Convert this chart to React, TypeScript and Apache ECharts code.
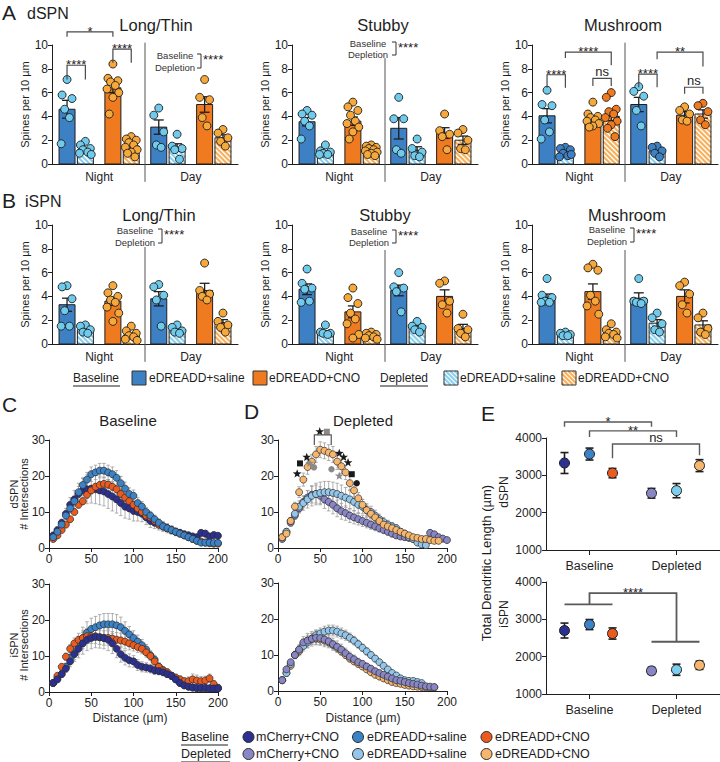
import React, { useEffect, useRef } from "react";
import * as echarts from "echarts";

const FONT = 'Arial, "Liberation Sans", Helvetica, sans-serif';
const fnt = (s: number) => `${s}px ${FONT}`;
const INK = "#1e1e1e";
const GREY = "#4a4a4a";

const BAR_BLUE = "#3d80c3";
const BAR_ORANGE = "#ef7a1f";
const DOT_LBLUE = "#6fcaec";
const DOT_LORANGE = "#f7a83b";
const HATCH_BLUE = "#8cd0f0";
const HATCH_ORANGE = "#f9b05a";

const NAVY = "#2c3191";
const MBLUE = "#3b82c6";
const RORANGE = "#ea5b1f";
const PURPLE = "#8986c5";
const LBLUE = "#93c6eb";
const LORANGE = "#f7b66d";
const CYAN = "#7dcfee";

// ---------------- categories / labels ----------------
const TIMES = ["Night", "Day"];
const LEGEND_BARS = ["eDREADD+saline", "eDREADD+CNO", "eDREADD+saline", "eDREADD+CNO"];
const LEGEND_SHOLL = ["mCherry+CNO", "eDREADD+saline", "eDREADD+CNO"];
const CONDITIONS = ["Baseline", "Depleted"];
const E_GROUPS = ["Baseline", "Depleted"];

// ---------------- Panel A (dSPN) ----------------
// order: Night [Base saline, Depl saline, Base CNO, Depl CNO], Day [same]
const A_LONG_MEAN = [4.6, 1.2, 6.4, 1.5, 3.1, 1.4, 5.0, 2.2];
const A_LONG_SEM = [0.75, 0.18, 0.4, 0.18, 0.6, 0.3, 0.65, 0.25];
const A_LONG_DOTS = [
  [7.1, 5.8, 5.5, 4.6, 3.9, 1.7],
  [1.9, 1.6, 1.3, 1.2, 1.0, 0.9, 0.8],
  [8.4, 7.2, 7.0, 6.9, 6.6, 6.3, 6.0, 5.6, 4.2],
  [2.3, 2.1, 2.0, 1.8, 1.6, 1.4, 1.2, 1.0, 0.9, 0.6],
  [4.7, 4.1, 2.7, 1.6, 1.4],
  [2.5, 1.5, 1.3, 1.2, 0.4],
  [7.1, 5.6, 5.4, 3.9, 3.2],
  [2.9, 2.6, 2.2, 1.9, 1.5],
];
const A_STUBBY_MEAN = [3.55, 1.0, 3.6, 1.2, 3.0, 1.15, 2.6, 2.0];
const A_STUBBY_SEM = [0.35, 0.12, 0.35, 0.1, 0.9, 0.3, 0.45, 0.35];
const A_STUBBY_DOTS = [
  [4.5, 4.2, 4.1, 3.6, 3.2, 2.1],
  [1.6, 1.1, 1.0, 0.9, 0.8, 0.8],
  [5.2, 4.8, 4.5, 4.1, 3.6, 3.4, 3.1, 2.7, 2.1],
  [1.6, 1.5, 1.4, 1.3, 1.2, 1.1, 1.0, 0.9, 0.8, 0.7],
  [5.6, 3.8, 3.8, 1.2, 0.9],
  [2.1, 1.3, 1.0, 0.7, 0.6],
  [4.2, 2.8, 2.5, 2.3, 1.2],
  [2.9, 2.6, 2.0, 1.3, 1.2],
];
const A_MUSH_MEAN = [4.05, 0.9, 3.85, 4.0, 5.0, 1.1, 4.1, 4.2];
const A_MUSH_SEM = [0.6, 0.12, 0.22, 0.35, 0.6, 0.18, 0.3, 0.35];
const A_MUSH_DOTS = [
  [6.2, 5.0, 4.9, 3.7, 2.7, 2.1],
  [1.4, 1.3, 1.2, 0.9, 0.7, 0.6, 0.8],
  [5.2, 4.2, 4.0, 3.9, 3.7, 3.6, 3.4, 3.2, 3.1],
  [6.0, 5.6, 4.6, 4.4, 4.2, 3.9, 3.6, 3.3, 3.0, 2.3],
  [6.5, 6.1, 5.7, 4.5, 3.2],
  [1.5, 1.4, 1.1, 0.9, 0.6],
  [4.8, 4.5, 4.2, 3.7, 3.6],
  [5.1, 4.9, 4.4, 3.7, 3.3],
];

// ---------------- Panel B (iSPN) ----------------
const B_LONG_MEAN = [3.3, 1.2, 3.6, 0.75, 3.8, 1.2, 4.5, 1.8];
const B_LONG_SEM = [0.55, 0.12, 0.35, 0.15, 0.6, 0.12, 0.6, 0.25];
const B_LONG_DOTS = [
  [4.9, 4.8, 3.8, 2.8, 1.5, 1.5],
  [1.6, 1.5, 1.2, 1.0, 0.9],
  [4.9, 4.3, 4.0, 3.7, 3.5, 3.1, 2.6, 1.9],
  [1.5, 1.1, 0.9, 0.7, 0.6, 0.4, 0.3],
  [5.0, 4.8, 4.1, 3.7, 1.5],
  [1.6, 1.4, 1.1, 1.0, 0.9],
  [6.8, 4.5, 4.2, 4.0, 3.7],
  [2.6, 1.9, 1.6, 1.4, 1.0],
];
const B_STUBBY_MEAN = [4.6, 1.0, 2.7, 0.7, 4.5, 1.4, 4.0, 1.3];
const B_STUBBY_SEM = [0.45, 0.12, 0.5, 0.1, 0.45, 0.15, 0.55, 0.35];
const B_STUBBY_DOTS = [
  [6.3, 5.1, 4.7, 4.6, 3.6, 3.5],
  [1.6, 1.0, 0.9, 0.9, 0.8],
  [4.7, 3.9, 3.4, 2.6, 2.1, 1.7, 0.8, 0.5],
  [1.0, 0.9, 0.8, 0.7, 0.6, 0.5, 0.4],
  [6.0, 4.8, 4.7, 4.4, 2.7],
  [1.9, 1.5, 1.4, 1.2, 1.0],
  [5.3, 5.1, 3.6, 3.3, 2.6],
  [2.5, 1.3, 1.2, 0.9, 0.6],
];
const B_MUSH_MEAN = [3.9, 0.8, 4.4, 0.95, 3.85, 1.75, 4.0, 1.6];
const B_MUSH_SEM = [0.3, 0.08, 0.65, 0.15, 0.45, 0.3, 0.55, 0.35];
const B_MUSH_DOTS = [
  [5.5, 4.1, 3.9, 3.6, 3.5, 3.5],
  [1.0, 0.9, 0.8, 0.7, 0.7],
  [6.7, 6.4, 6.2, 4.1, 3.6, 3.2, 2.5],
  [1.7, 1.2, 1.0, 0.9, 0.8, 0.6, 0.5],
  [5.5, 3.6, 3.6, 3.5, 3.4],
  [2.6, 2.2, 1.7, 1.2, 1.0],
  [5.2, 4.9, 4.2, 3.3, 2.6],
  [2.6, 2.2, 1.3, 1.0, 0.8],
];

// significance brackets (bar index a..b, y of top and of the two ends)
const A_LONG_BRACKETS = [
  { a: 0, b: 2, top: 11.1, l: 10.7, r: 10.7, text: "*" },
  { a: 0, b: 1, top: 8.3, l: 7.1, r: 7.1, text: "****" },
  { a: 2, b: 3, top: 9.65, l: 8.5, r: 8.5, text: "****" },
];
const A_MUSH_BRACKETS = [
  { a: 0, b: 1, top: 7.5, l: 6.4, r: 6.4, text: "****" },
  { a: 1, b: 3, top: 9.4, l: 8.9, r: 8.3, text: "****" },
  { a: 2, b: 3, top: 7.2, l: 6.55, r: 6.55, text: "ns" },
  { a: 4, b: 5, top: 7.55, l: 6.45, r: 6.45, text: "****" },
  { a: 5, b: 7, top: 9.4, l: 8.8, r: 8.2, text: "**" },
  { a: 6, b: 7, top: 6.45, l: 5.9, r: 5.9, text: "ns" },
];

// ---------------- Panels C / D (Sholl) ----------------
const RADII = [5, 10, 15, 20, 25, 30, 35, 40, 45, 50, 55, 60, 65, 70, 75, 80, 85, 90, 95, 100, 105, 110, 115, 120, 125, 130, 135, 140, 145, 150, 155, 160, 165, 170, 175, 180, 185, 190, 195, 200];

const C_DSPN_MCHERRY = [3.5, 5, 7, 9.5, 12, 13.5, 15, 16, 16.3, 16.5, 16.3, 16, 15.7, 15, 14.3, 13.5, 12.5, 11.5, 11, 10.3, 10, 9.5, 8.5, 7.5, 7, 6.5, 6, 5.5, 5, 4.5, 4.2, 3.8, 3.5, 3.2, 3.0, 4.2, 4.0, 3.2, 3.6, 3.4];
const C_DSPN_MCHERRY_SEM = [0.5, 0.8, 1, 1.5, 2, 2.5, 3, 3.5, 4, 4, 4, 4, 4, 4, 4, 3.8, 3.5, 3.2, 3, 2.8, 2.5, 2.2, 2, 1.8, 1.6, 1.5, 1.4, 1.3, 1.2, 1.1, 1, 1, 1, 0.9, 0.9, 0.9, 0.9, 0.9, 0.9, 0.9];
const C_DSPN_SALINE = [3, 4.5, 6.5, 9, 11, 13, 15.5, 17.5, 19, 20.5, 21, 21.5, 21.5, 21, 20.5, 19.5, 18, 16.5, 15, 14.5, 12.5, 11.5, 10, 9, 8, 7, 6, 5.5, 5, 4.5, 4, 3.5, 3, 2.5, 2, 1.5, 1.5, 1.5, 1.4, 1.4];
const C_DSPN_SALINE_SEM = [0.4, 0.6, 0.8, 1, 1.2, 1.4, 1.6, 1.8, 2, 2, 2, 2, 2, 2, 2, 2, 1.9, 1.8, 1.7, 1.6, 1.5, 1.4, 1.3, 1.2, 1.1, 1, 1, 0.9, 0.9, 0.8, 0.8, 0.7, 0.7, 0.6, 0.6, 0.5, 0.5, 0.5, 0.5, 0.5];
const C_DSPN_CNO = [2.5, 3.5, 5, 6.5, 8, 10, 12, 13, 14.8, 16, 17, 17.5, 17.8, 17.6, 17, 16.3, 15, 14, 13, 12, 11, 10, 9, 8.5, 7.5, 6.5, 6, 5.5, 5, 4.5, 4, 3.5, 3, 2.5, 2, 1.8, 1.5, 1.3, 1.2, 1.2];
const C_DSPN_CNO_SEM = [0.3, 0.4, 0.5, 0.6, 0.7, 0.8, 0.9, 1, 1, 1, 1, 1, 1, 1, 1, 1, 1, 1, 0.9, 0.9, 0.9, 0.8, 0.8, 0.8, 0.7, 0.7, 0.7, 0.6, 0.6, 0.6, 0.5, 0.5, 0.5, 0.5, 0.5, 0.4, 0.4, 0.4, 0.4, 0.4];

const C_ISPN_MCHERRY = [2.5, 3.5, 5, 6.5, 8.5, 10.5, 12, 13.5, 14.5, 15, 15.3, 15.2, 15, 14.5, 13.5, 12, 10.5, 9.5, 8.8, 8.5, 7.5, 7, 6.8, 6.5, 6, 5.8, 5.5, 5, 4.5, 3.5, 2.5, 1.8, 1.5, 1.3, 1.2, 1.2, 1.2, 1, 1, 1];
const C_ISPN_MCHERRY_SEM = [0.4, 0.6, 0.8, 1, 1.5, 2, 2.5, 3, 3, 3, 3, 3, 3, 3, 2.8, 2.5, 2.2, 2, 1.8, 1.6, 1.5, 1.4, 1.3, 1.2, 1.1, 1, 1, 0.9, 0.8, 0.8, 0.7, 0.6, 0.5, 0.5, 0.5, 0.5, 0.5, 0.5, 0.5, 0.5];
const C_ISPN_SALINE = [2.5, 4, 5, 7, 9.5, 11, 13, 15, 16.5, 17.5, 18, 18.5, 18.8, 18.8, 18.8, 18.5, 18, 17, 16, 15, 14, 13, 11.8, 10.2, 9, 7, 6, 5, 4.5, 3.5, 2.5, 2, 1.5, 1.2, 1, 1, 1, 1, 1, 1];
const C_ISPN_SALINE_SEM = [0.4, 0.6, 0.8, 1, 1.5, 2, 2.5, 3, 3, 3, 3, 3, 3, 3, 3, 3, 2.8, 2.5, 2.2, 2, 1.8, 1.6, 1.4, 1.3, 1.2, 1.1, 1, 0.9, 0.8, 0.7, 0.6, 0.5, 0.5, 0.5, 0.5, 0.4, 0.4, 0.4, 0.4, 0.4];
const C_ISPN_CNO = [2.5, 4.5, 7, 9.8, 12, 13.5, 14.5, 15, 15.5, 15.5, 15.5, 15.2, 15, 15, 14.8, 14.5, 14.3, 14, 13.5, 13, 12.5, 12, 11, 10, 8.5, 7, 6, 5.5, 4.5, 4, 3.5, 3, 3, 3.5, 3.2, 3, 3.2, 3.8, 2.2, 1.2];
const C_ISPN_CNO_SEM = [0.3, 0.5, 0.7, 1, 1.2, 1.5, 1.8, 2, 2, 2, 2, 2, 2, 2, 2, 2, 2, 2, 1.8, 1.6, 1.5, 1.4, 1.3, 1.2, 1.1, 1, 1, 1, 1, 1, 1, 1, 1.2, 1.5, 1.5, 1.3, 1.2, 1.2, 1, 0.8];

const D_DSPN_MCHERRY = [2.5, 4.5, 7, 9, 11, 12.8, 14, 14.8, 15, 14.5, 13.5, 12.8, 12, 11, 10.2, 9.7, 9, 8.5, 8, 7.5, 7, 6.5, 6, 5.5, 5, 4.5, 4, 3.5, 3.2, 3, 2.8, 2.5, 2.3, 2.2, 2, 4.2, 3.8, 3, 2.6, 2.2];
const D_DSPN_MCHERRY_SEM = [0.4, 0.6, 0.8, 1, 1.3, 1.6, 2, 2.3, 2.5, 2.5, 2.5, 2.5, 2.5, 2.3, 2.2, 2, 1.9, 1.8, 1.6, 1.5, 1.4, 1.3, 1.2, 1.1, 1, 0.9, 0.9, 0.8, 0.8, 0.7, 0.7, 0.6, 0.6, 0.6, 0.6, 0.8, 0.8, 0.7, 0.6, 0.6];
const D_DSPN_SALINE = [3, 4.5, 7.5, 9.5, 11.5, 12.5, 13.5, 14.5, 15, 15.3, 15.5, 15.5, 15.3, 15, 14.5, 14, 13.5, 12.8, 12, 11.5, 10.5, 10, 9, 8, 7.2, 6.5, 6, 5.5, 4.5, 4, 3, 2.5, 1.5, 1, 0.8];
const D_DSPN_SALINE_SEM = [0.4, 0.6, 0.8, 1.2, 1.6, 2, 2.4, 2.8, 3, 3, 3, 3, 3, 3, 3, 2.8, 2.6, 2.4, 2.2, 2, 1.8, 1.6, 1.5, 1.4, 1.3, 1.2, 1.1, 1, 0.9, 0.8, 0.7, 0.6, 0.5, 0.5, 0.5];
const D_DSPN_CNO = [3, 4, 7.5, 11.5, 15.5, 19, 22.5, 24, 26, 27.3, 27, 26.5, 26, 24, 22.7, 21, 18, 16, 13.8, 12, 10.5, 9.5, 8.5, 7.5, 6.5, 6, 5.5, 5, 4.5, 4, 3.5, 3, 2.8, 2.5, 2.5, 2.2, 2, 2];
const D_DSPN_CNO_SEM = [0.4, 0.6, 1, 1.2, 1.5, 1.8, 2, 2, 2.2, 2.2, 2.2, 2.2, 2.2, 2.2, 2, 2, 2, 1.8, 1.6, 1.5, 1.4, 1.3, 1.2, 1.1, 1, 1, 0.9, 0.9, 0.8, 0.8, 0.7, 0.7, 0.6, 0.6, 0.6, 0.6, 0.5, 0.5];

const D_ISPN_MCHERRY = [3, 6, 8, 10, 11.5, 13.5, 14, 14.5, 14.8, 14.7, 14.3, 13.8, 13, 12.3, 11.5, 10.5, 9.5, 8.8, 8, 7.5, 6.8, 6.2, 5.5, 5, 4.5, 4, 3.5, 3, 2.8, 2.5, 2.2, 2, 1.8, 1.5, 1.3, 1.2, 1.1];
const D_ISPN_MCHERRY_SEM = [0.3, 0.5, 0.8, 1, 1.3, 1.6, 2, 2, 2, 2, 2, 1.8, 1.7, 1.6, 1.5, 1.4, 1.3, 1.2, 1.1, 1, 0.9, 0.8, 0.8, 0.7, 0.7, 0.6, 0.6, 0.5, 0.5, 0.5, 0.4, 0.4, 0.4, 0.4, 0.4, 0.4, 0.4];
const D_ISPN_SALINE = [3, 5, 7.5, 10, 11.5, 12.5, 13.5, 14.5, 15.5, 16, 16.5, 16.8, 16.8, 16.5, 16, 15.5, 14.8, 14, 13, 12, 11, 10, 9, 8, 7, 6, 5, 4.3, 3.5, 3, 2.8, 2.8, 2.5, 2.2];
const D_ISPN_SALINE_SEM = [0.3, 0.5, 0.8, 1, 1.2, 1.4, 1.5, 1.5, 1.5, 1.5, 1.5, 1.5, 1.5, 1.5, 1.5, 1.4, 1.3, 1.2, 1.1, 1, 1, 0.9, 0.9, 0.8, 0.8, 0.7, 0.7, 0.6, 0.6, 0.6, 0.5, 0.5, 0.5, 0.5];
const D_ISPN_CNO = [3, 5, 7, 10, 11, 13, 14, 14.5, 14.5, 14.3, 14, 13.5, 12.8, 12, 11, 10, 9, 8.2, 7.5, 6.8, 6, 5.2, 4.5, 4, 3.5, 3, 2.5, 2.2, 2, 1.7, 1.5, 1.3, 1.2, 1.1, 1, 1, 1];
const D_ISPN_CNO_SEM = [0.3, 0.5, 0.8, 1, 1.2, 1.4, 1.5, 1.5, 1.5, 1.4, 1.3, 1.2, 1.1, 1, 1, 0.9, 0.9, 0.8, 0.8, 0.7, 0.7, 0.6, 0.6, 0.5, 0.5, 0.5, 0.4, 0.4, 0.4, 0.4, 0.4, 0.3, 0.3, 0.3, 0.3, 0.3, 0.3];

// significance marks on D (dSPN depleted): [radius, y]
const D_MARK_POS = [[22.7, 20.6], [26, 23.5], [34, 25.2], [37.5, 23.5], [42.6, 22.4], [49.4, 32.3], [57.8, 32.3], [63.3, 21.9], [72.5, 26.3], [77.7, 25.2], [82.9, 23.7], [72.5, 20.0], [87.3, 20.5], [93.2, 18.0]];
const D_MARK_KIND = ["star", "square", "star", "star", "dot", "star", "square", "dot", "star", "star", "star", "star", "square", "dot"];
const D_MARK_TONE = ["k", "k", "k", "g", "g", "k", "g", "g", "k", "k", "k", "g", "k", "k"];
const D_SIG_BRACKET = [[43, 28.6], [43, 31.4], [63, 31.4], [63, 28.6]];

// ---------------- Panel E (total dendritic length) ----------------
// order: Baseline [mCherry, saline, CNO], Depleted [mCherry, saline, CNO]
const E_DSPN_MEAN = [3330, 3570, 3060, 2520, 2590, 3260];
const E_DSPN_SEM = [280, 160, 125, 130, 190, 160];
const E_ISPN_MEAN = [2700, 2860, 2620, 1620, 1650, 1770];
const E_ISPN_SEM = [200, 135, 150, 90, 150, 110];
const E_COLORS = [NAVY, MBLUE, RORANGE, PURPLE, CYAN, LORANGE];
const E_DSPN_BRACKETS = [
  { paths: [[[0, 4300], [0, 4430], [3, 4430], [3, 4300]]], text: "*", between: [0, 3], y: 4430 },
  { paths: [[[1, 4030], [1, 4190], [4, 4190], [4, 4030]]], text: "**", between: [1, 4], y: 4190 },
  { paths: [[[2, 3460], [2, 3840], [5, 3840], [5, 3540]]], text: "ns", between: [2, 5], y: 3840 },
];
const E_ISPN_BRACKETS = [
  {
    paths: [
      [[0, 3400], [2, 3400]],
      [[1, 3400], [1, 3700], [4, 3700], [4, 2400]],
      [[3, 2400], [5, 2400]],
    ],
    text: "****",
    between: [1, 4],
    y: 3700,
  },
];

// ---------------- layout constants ----------------
const POS = [0, 1, 2.5, 3.5, 5, 6, 7.5, 8.5];
const X_MIN = -0.82;
const X_MAX = 9.32;
const DIVIDER_X = 4.25;
const NIGHT_X = 1.75;
const DAY_X = 6.75;
const JITTER = [0, -0.27, 0.27, -0.13, 0.13, -0.32, 0.32, 0.0, -0.2, 0.2, 0.06];
const E_OFFSETS = [-25, 0, 23];
const BAR_W = 16;

const axisLine = { show: true, onZero: false, lineStyle: { color: INK, width: 1 } };
const axisTick = { show: true, length: 4, lineStyle: { color: INK, width: 1 } };

// diagonal "\" hatching lines inside a w x h box whose top-left is (ox, oy)
function hatchLines(ox: number, oy: number, w: number, h: number, step: number, color: string, lw: number) {
  const out: any[] = [];
  for (let c = -h + step / 2; c < w; c += step) {
    const x1 = Math.max(0, c), y1 = x1 - c;
    const x2 = Math.min(w, h + c), y2 = x2 - c;
    if (x2 <= x1) continue;
    out.push({ type: "line", shape: { x1: ox + x1, y1: oy + y1, x2: ox + x2, y2: oy + y2 }, style: { stroke: color, lineWidth: lw } });
  }
  return out;
}

function dotColor(k: number, dark: boolean) {
  if (k < 2) return k === 1 && dark ? BAR_BLUE : DOT_LBLUE;
  return k === 3 && dark ? BAR_ORANGE : DOT_LORANGE;
}

function addBarPanel(opt: any, left: number, top: number, means: number[], sems: number[], dots: number[][], brackets: any[], dividerTop: number, dark: boolean) {
  const gi = opt.grid.length;
  opt.grid.push({ left, top, width: 186, height: 119 });
  opt.xAxis.push({
    gridIndex: gi, type: "value", min: X_MIN, max: X_MAX,
    axisLine, axisTick: { show: false }, axisLabel: { show: false }, splitLine: { show: false },
  });
  opt.yAxis.push({
    gridIndex: gi, type: "value", min: 0, max: 10, interval: 2,
    name: "Spines per 10 µm", nameLocation: "middle", nameGap: 20,
    nameTextStyle: { fontSize: 11, color: INK },
    axisLine, axisTick, axisLabel: { fontSize: 12, color: INK, margin: 4 }, splitLine: { show: false },
  });
  // bars (solid / hatched)
  opt.series.push({
    type: "custom", xAxisIndex: gi, yAxisIndex: gi, clip: false, silent: true, z: 2,
    data: means.map((m, i) => [POS[i], m]),
    renderItem: (p: any, api: any) => {
      const k = p.dataIndex % 4;
      const t = api.coord([api.value(0), api.value(1)]);
      const b = api.coord([api.value(0), 0]);
      const x0 = t[0] - BAR_W / 2, y0 = t[1], h = b[1] - t[1];
      const kids: any[] = [];
      const hatched = k === 1 || k === 3;
      kids.push({ type: "rect", shape: { x: x0, y: y0, width: BAR_W, height: h }, style: { fill: hatched ? "#ffffff" : k === 0 ? BAR_BLUE : BAR_ORANGE } });
      if (hatched) kids.push(...hatchLines(x0, y0, BAR_W, h, 5, k === 1 ? HATCH_BLUE : HATCH_ORANGE, 2.2));
      kids.push({ type: "rect", shape: { x: x0, y: y0, width: BAR_W, height: h }, style: { fill: "none", stroke: INK, lineWidth: 1 } });
      return { type: "group", children: kids };
    },
  });
  opt.series.push({
    type: "custom", xAxisIndex: gi, yAxisIndex: gi, clip: false, silent: true, z: 4,
    data: means.map((m, i) => [POS[i], m, sems[i]]),
    renderItem: (_p: any, api: any) => {
      const x = api.value(0), m = api.value(1), s = api.value(2);
      const a = api.coord([x, m + s]), b = api.coord([x, m - s]);
      const w = 5;
      const st = { stroke: INK, lineWidth: 1.3 };
      return {
        type: "group",
        children: [
          { type: "line", shape: { x1: a[0], y1: a[1], x2: b[0], y2: b[1] }, style: st },
          { type: "line", shape: { x1: a[0] - w, y1: a[1], x2: a[0] + w, y2: a[1] }, style: st },
          { type: "line", shape: { x1: b[0] - w, y1: b[1], x2: b[0] + w, y2: b[1] }, style: st },
        ],
      };
    },
  });
  const pts: any[] = [];
  dots.forEach((arr, i) =>
    arr.forEach((v, j) =>
      pts.push({ value: [POS[i] + JITTER[j % JITTER.length], v], itemStyle: { color: dotColor(i % 4, dark) } })
    )
  );
  opt.series.push({
    type: "scatter", xAxisIndex: gi, yAxisIndex: gi, symbolSize: 8, silent: true, z: 5,
    itemStyle: { borderColor: INK, borderWidth: 0.9, opacity: 1 },
    data: pts,
  });
  opt.series.push({
    type: "custom", xAxisIndex: gi, yAxisIndex: gi, clip: false, silent: true, z: 6,
    data: [[0, 0]],
    renderItem: (_p: any, api: any) => {
      const c = (x: number, y: number) => api.coord([x, y]);
      const kids: any[] = [];
      const d1 = c(DIVIDER_X, dividerTop), d2 = c(DIVIDER_X, -1.5);
      kids.push({ type: "line", shape: { x1: d1[0], y1: d1[1], x2: d2[0], y2: d2[1] }, style: { stroke: "#555", lineWidth: 1 } });
      [NIGHT_X, DAY_X].forEach((x, i) => {
        const p = c(x, 0);
        kids.push({ type: "text", x: p[0], y: p[1] + 13, style: { text: TIMES[i], font: fnt(12), fill: INK, align: "center", verticalAlign: "middle" } });
      });
      brackets.forEach((b: any) => {
        const p1 = c(POS[b.a], b.l), p2 = c(POS[b.a], b.top), p3 = c(POS[b.b], b.top), p4 = c(POS[b.b], b.r);
        kids.push({ type: "polyline", shape: { points: [p1, p2, p3, p4] }, style: { stroke: GREY, lineWidth: 1.2, fill: "none" } });
        const star = b.text !== "ns";
        kids.push({
          type: "text", x: (p2[0] + p3[0]) / 2, y: p2[1] + (star ? 6 : 0),
          style: { text: b.text, font: fnt(13), fill: INK, align: "center", verticalAlign: "bottom" },
        });
      });
      return { type: "group", children: kids };
    },
  });
}

function starPoints(cx: number, cy: number, R: number, r: number) {
  const pts: number[][] = [];
  for (let k = 0; k < 10; k++) {
    const ang = -Math.PI / 2 + (k * Math.PI) / 5;
    const rad = k % 2 === 0 ? R : r;
    pts.push([cx + rad * Math.cos(ang), cy + rad * Math.sin(ang)]);
  }
  return pts;
}

function addShollPanel(opt: any, left: number, top: number, list: any[], marks: boolean) {
  const gi = opt.grid.length;
  opt.grid.push({ left, top, width: 169, height: 108 });
  opt.xAxis.push({
    gridIndex: gi, type: "value", min: 0, max: 200, interval: 50,
    axisLine, axisTick, axisLabel: { fontSize: 12, color: INK, margin: 5 }, splitLine: { show: false },
  });
  opt.yAxis.push({
    gridIndex: gi, type: "value", min: 0, max: 30, interval: 10,
    axisLine, axisTick, axisLabel: { fontSize: 12, color: INK, margin: 4 }, splitLine: { show: false },
  });
  list.forEach((s) => {
    opt.series.push({
      type: "custom", xAxisIndex: gi, yAxisIndex: gi, clip: false, silent: true, z: 2,
      data: s.vals.map((v: number, i: number) => [RADII[i], v, s.sem[i]]),
      renderItem: (_p: any, api: any) => {
        const x = api.value(0), v = api.value(1), e = api.value(2);
        const a = api.coord([x, v + e]), b = api.coord([x, Math.max(0, v - e)]);
        const w = 1.8;
        const st = { stroke: "#9d9d9d", lineWidth: 0.8 };
        return {
          type: "group",
          children: [
            { type: "line", shape: { x1: a[0], y1: a[1], x2: b[0], y2: b[1] }, style: st },
            { type: "line", shape: { x1: a[0] - w, y1: a[1], x2: a[0] + w, y2: a[1] }, style: st },
            { type: "line", shape: { x1: b[0] - w, y1: b[1], x2: b[0] + w, y2: b[1] }, style: st },
          ],
        };
      },
    });
  });
  list.forEach((s) => {
    opt.series.push({
      type: "scatter", xAxisIndex: gi, yAxisIndex: gi, symbolSize: 7, silent: true, z: 3,
      itemStyle: { color: s.color, borderColor: "#2a2a2a", borderWidth: 0.7, opacity: 1 },
      data: s.vals.map((v: number, i: number) => [RADII[i], v]),
    });
  });
  if (marks) {
    opt.series.push({
      type: "custom", xAxisIndex: gi, yAxisIndex: gi, clip: false, silent: true, z: 6,
      data: D_MARK_POS,
      renderItem: (p: any, api: any) => {
        const i = p.dataIndex;
        const c = api.coord([api.value(0), api.value(1)]);
        const fill = D_MARK_TONE[i] === "k" ? "#1a1a1a" : "#8a8a8a";
        const kind = D_MARK_KIND[i];
        if (kind === "star") return { type: "polygon", shape: { points: starPoints(c[0], c[1], 4.6, 1.9) }, style: { fill } };
        if (kind === "square") return { type: "rect", shape: { x: c[0] - 3, y: c[1] - 3, width: 6, height: 6 }, style: { fill } };
        return { type: "circle", shape: { cx: c[0], cy: c[1], r: 3.2 }, style: { fill } };
      },
    });
    opt.series.push({
      type: "custom", xAxisIndex: gi, yAxisIndex: gi, clip: false, silent: true, z: 6,
      data: [[0, 0]],
      renderItem: (_p: any, api: any) => ({
        type: "polyline",
        shape: { points: D_SIG_BRACKET.map((q) => api.coord(q)) },
        style: { stroke: "#555", lineWidth: 1.2, fill: "none" },
      }),
    });
  }
}

function addEPanel(opt: any, top: number, means: number[], sems: number[], brackets: any[]) {
  const gi = opt.grid.length;
  opt.grid.push({ left: 546, top, width: 174, height: 112 });
  opt.xAxis.push({
    gridIndex: gi, type: "category", data: E_GROUPS, boundaryGap: true,
    axisLine, axisTick: { show: true, alignWithLabel: true, length: 5, lineStyle: { color: INK } },
    axisLabel: { fontSize: 12.5, color: INK, margin: 9 }, splitLine: { show: false },
  });
  opt.yAxis.push({
    gridIndex: gi, type: "value", min: 1000, max: 4000, interval: 1000,
    axisLine, axisTick,
    axisLabel: { fontSize: 12, color: INK, margin: 4, formatter: (v: number) => String(v) },
    splitLine: { show: false },
  });
  const xOf = (api: any, idx: number) => api.coord([Math.floor(idx / 3), 1000])[0] + E_OFFSETS[idx % 3];
  opt.series.push({
    type: "custom", xAxisIndex: gi, yAxisIndex: gi, clip: false, silent: true, z: 3,
    data: [[0, 1000]],
    renderItem: (_p: any, api: any) => {
      const kids: any[] = [];
      brackets.forEach((b: any) => {
        b.paths.forEach((path: number[][]) => {
          kids.push({
            type: "polyline",
            shape: { points: path.map((q) => [xOf(api, q[0]), api.coord([0, q[1]])[1]]) },
            style: { stroke: "#5a5a5a", lineWidth: b.paths.length > 1 ? 1.8 : 1.4, fill: "none" },
          });
        });
        const tx = (xOf(api, b.between[0]) + xOf(api, b.between[1])) / 2;
        const ty = api.coord([0, b.y])[1];
        const star = b.text !== "ns";
        kids.push({
          type: "text", x: tx, y: ty + (star ? 6 : 0),
          style: { text: b.text, font: fnt(13), fill: INK, align: "center", verticalAlign: "bottom" },
        });
      });
      return { type: "group", children: kids };
    },
  });
  opt.series.push({
    type: "custom", xAxisIndex: gi, yAxisIndex: gi, clip: false, silent: true, z: 4,
    data: means.map((m, i) => [Math.floor(i / 3), m, sems[i]]),
    renderItem: (p: any, api: any) => {
      const i = p.dataIndex;
      const cx = xOf(api, i);
      const m = api.value(1), s = api.value(2);
      const yc = api.coord([0, m])[1], ya = api.coord([0, m + s])[1], yb = api.coord([0, m - s])[1];
      const w = 4;
      const st = { stroke: INK, lineWidth: 1.6 };
      return {
        type: "group",
        children: [
          { type: "line", shape: { x1: cx, y1: ya, x2: cx, y2: yb }, style: st },
          { type: "line", shape: { x1: cx - w, y1: ya, x2: cx + w, y2: ya }, style: st },
          { type: "line", shape: { x1: cx - w, y1: yb, x2: cx + w, y2: yb }, style: st },
          { type: "circle", shape: { cx, cy: yc, r: 5 }, style: { fill: E_COLORS[i], stroke: INK, lineWidth: 1 } },
        ],
      };
    },
  });
}

function txt(x: number, y: number, text: string, size: number, align = "left", rot = 0, extra: any = {}) {
  return {
    type: "text", x, y, rotation: rot, z: 10, silent: true,
    style: { text, font: fnt(size), fill: INK, align, verticalAlign: "middle", ...extra },
  };
}

function hatchSquare(x: number, y: number, s: number, color: string) {
  const children: any[] = [{ type: "rect", shape: { x: 0, y: 0, width: s, height: s }, style: { fill: "#fff" } }];
  children.push(...hatchLines(0, 0, s, s, 4.5, color, 2.2));
  children.push({ type: "rect", shape: { x: 0, y: 0, width: s, height: s }, style: { fill: "none", stroke: "#333", lineWidth: 1 } });
  return { type: "group", x, y, z: 10, silent: true, children };
}

function buildGraphics() {
  const els: any[] = [];
  // Panel letters & headers
  els.push(txt(2, 12, "A", 21));
  els.push(txt(27, 13, "dSPN", 16));
  els.push(txt(156, 25, "Long/Thin", 16.5, "center"));
  els.push(txt(383, 25, "Stubby", 16.5, "center"));
  els.push(txt(623, 25, "Mushroom", 16.5, "center"));
  els.push(txt(2, 200, "B", 21));
  els.push(txt(25, 201, "iSPN", 16));
  els.push(txt(159, 215, "Long/Thin", 16.5, "center"));
  els.push(txt(385, 215, "Stubby", 16.5, "center"));
  els.push(txt(627, 215, "Mushroom", 16.5, "center"));

  // Baseline / Depletion main-effect labels
  const bd = [
    { cx: 175, yB: 55, yD: 67, bx: 201 },
    { cx: 368, yB: 43, yD: 54, bx: 396 },
    { cx: 135, yB: 230, yD: 242, bx: 162 },
    { cx: 369, yB: 231, yD: 242, bx: 396 },
    { cx: 607, yB: 229, yD: 241, bx: 634 },
  ];
  bd.forEach((b) => {
    els.push(txt(b.cx, b.yB, "Baseline", 9.5, "center", 0, { fill: "#333" }));
    els.push(txt(b.cx, b.yD, "Depletion", 9.5, "center", 0, { fill: "#333" }));
    els.push({
      type: "polyline", z: 10, silent: true,
      shape: { points: [[b.bx - 4, b.yB - 1], [b.bx, b.yB - 1], [b.bx, b.yD + 1], [b.bx - 4, b.yD + 1]] },
      style: { stroke: "#333", lineWidth: 1, fill: "none" },
    });
    els.push({
      type: "text", x: b.bx + 2, y: (b.yB + b.yD) / 2 + 5, z: 10, silent: true,
      style: { text: "****", font: fnt(13), fill: INK, align: "left", verticalAlign: "bottom" },
    });
  });

  // middle legend
  const ly = 378;
  els.push(txt(73, ly, CONDITIONS[0], 12));
  els.push({ type: "line", z: 10, shape: { x1: 73, y1: ly + 8, x2: 120, y2: ly + 8 }, style: { stroke: INK, lineWidth: 1 } });
  els.push({ type: "rect", z: 10, shape: { x: 132, y: ly - 7, width: 14, height: 14 }, style: { fill: BAR_BLUE, stroke: "#333", lineWidth: 1 } });
  els.push(txt(149, ly, LEGEND_BARS[0], 12));
  els.push({ type: "rect", z: 10, shape: { x: 253, y: ly - 7, width: 14, height: 14 }, style: { fill: BAR_ORANGE, stroke: "#333", lineWidth: 1 } });
  els.push(txt(269, ly, LEGEND_BARS[1], 12));
  els.push(txt(380, ly, CONDITIONS[1], 12));
  els.push({ type: "line", z: 10, shape: { x1: 380, y1: ly + 8, x2: 428, y2: ly + 8 }, style: { stroke: INK, lineWidth: 1 } });
  els.push(hatchSquare(444, ly - 7, 14, HATCH_BLUE));
  els.push(txt(460, ly, LEGEND_BARS[2], 12));
  els.push(hatchSquare(562, ly - 7, 14, HATCH_ORANGE));
  els.push(txt(578, ly, LEGEND_BARS[3], 12));

  // C / D / E headers
  els.push(txt(2, 404, "C", 21));
  els.push(txt(128, 420, "Baseline", 15, "center"));
  els.push(txt(244, 411, "D", 21));
  els.push(txt(363, 420, "Depleted", 15, "center"));
  els.push(txt(481, 413, "E", 21));

  // Sholl y names
  els.push({
    type: "text", x: 19, y: 494, rotation: Math.PI / 2, z: 10, silent: true,
    style: { text: "dSPN\n# Intersections", font: fnt(11), fill: INK, align: "center", verticalAlign: "middle", lineHeight: 10.5 },
  });
  els.push({
    type: "text", x: 19, y: 645, rotation: Math.PI / 2, z: 10, silent: true,
    style: { text: "iSPN\n# Intersections", font: fnt(11), fill: INK, align: "center", verticalAlign: "middle", lineHeight: 10.5 },
  });
  els.push(txt(130, 718, "Distance (µm)", 12, "center"));
  els.push(txt(363, 718, "Distance (µm)", 12, "center"));

  // E names
  els.push(txt(486, 563, "Total Dendritic Length (µm)", 13, "center", Math.PI / 2));
  els.push(txt(504, 492, "dSPN", 12, "center", Math.PI / 2));
  els.push(txt(504, 614, "iSPN", 12, "center", Math.PI / 2));

  // bottom legend
  const rows = [737, 754];
  const rowColors = [[NAVY, MBLUE, RORANGE], [PURPLE, LBLUE, LORANGE]];
  const cxs = [248.5, 358, 486.5];
  const txs = [256, 367, 495];
  rows.forEach((y, r) => {
    els.push(txt(181, y, CONDITIONS[r], 12.5));
    els.push({ type: "line", z: 10, shape: { x1: 181, y1: y + 8, x2: r === 0 ? 228 : 230, y2: y + 8 }, style: { stroke: INK, lineWidth: 1 } });
    cxs.forEach((cx, k) => {
      els.push({ type: "circle", z: 10, shape: { cx, cy: y, r: 5.5 }, style: { fill: rowColors[r][k], stroke: "#2a2a2a", lineWidth: 1 } });
      els.push(txt(txs[k], y, LEGEND_SHOLL[k], 12.5));
    });
  });
  return els;
}

function buildOption() {
  const opt: any = {
    animation: false,
    backgroundColor: "#ffffff",
    textStyle: { fontFamily: FONT },
    grid: [],
    xAxis: [],
    yAxis: [],
    series: [],
  };
  addBarPanel(opt, 52, 45, A_LONG_MEAN, A_LONG_SEM, A_LONG_DOTS, A_LONG_BRACKETS, 10.2, false);
  addBarPanel(opt, 292, 45, A_STUBBY_MEAN, A_STUBBY_SEM, A_STUBBY_DOTS, [], 8.9, false);
  addBarPanel(opt, 532, 45, A_MUSH_MEAN, A_MUSH_SEM, A_MUSH_DOTS, A_MUSH_BRACKETS, 10.2, true);
  addBarPanel(opt, 52, 225, B_LONG_MEAN, B_LONG_SEM, B_LONG_DOTS, [], 8.15, false);
  addBarPanel(opt, 292, 225, B_STUBBY_MEAN, B_STUBBY_SEM, B_STUBBY_DOTS, [], 7.9, false);
  addBarPanel(opt, 532, 225, B_MUSH_MEAN, B_MUSH_SEM, B_MUSH_DOTS, [], 7.9, false);

  addShollPanel(opt, 49, 440, [
    { vals: C_DSPN_MCHERRY, sem: C_DSPN_MCHERRY_SEM, color: NAVY },
    { vals: C_DSPN_CNO, sem: C_DSPN_CNO_SEM, color: RORANGE },
    { vals: C_DSPN_SALINE, sem: C_DSPN_SALINE_SEM, color: MBLUE },
  ], false);
  addShollPanel(opt, 49, 584, [
    { vals: C_ISPN_SALINE, sem: C_ISPN_SALINE_SEM, color: MBLUE },
    { vals: C_ISPN_CNO, sem: C_ISPN_CNO_SEM, color: RORANGE },
    { vals: C_ISPN_MCHERRY, sem: C_ISPN_MCHERRY_SEM, color: NAVY },
  ], false);
  addShollPanel(opt, 278, 440, [
    { vals: D_DSPN_MCHERRY, sem: D_DSPN_MCHERRY_SEM, color: PURPLE },
    { vals: D_DSPN_SALINE, sem: D_DSPN_SALINE_SEM, color: LBLUE },
    { vals: D_DSPN_CNO, sem: D_DSPN_CNO_SEM, color: LORANGE },
  ], true);
  addShollPanel(opt, 278, 583, [
    { vals: D_ISPN_CNO, sem: D_ISPN_CNO_SEM, color: LORANGE },
    { vals: D_ISPN_SALINE, sem: D_ISPN_SALINE_SEM, color: LBLUE },
    { vals: D_ISPN_MCHERRY, sem: D_ISPN_MCHERRY_SEM, color: PURPLE },
  ], false);

  addEPanel(opt, 438, E_DSPN_MEAN, E_DSPN_SEM, E_DSPN_BRACKETS);
  addEPanel(opt, 582, E_ISPN_MEAN, E_ISPN_SEM, E_ISPN_BRACKETS);

  opt.graphic = { elements: buildGraphics() };
  return opt;
}

export default function App() {
  const ref = useRef<HTMLDivElement>(null);
  useEffect(() => {
    if (!ref.current) return;
    const chart = echarts.init(ref.current, null, { renderer: "svg" });
    chart.setOption(buildOption());
    return () => chart.dispose();
  }, []);
  return (
    <div
      ref={ref}
      style={{ position: "absolute", left: 0, top: 0, width: 720, height: 762, background: "#fff" }}
    />
  );
}
